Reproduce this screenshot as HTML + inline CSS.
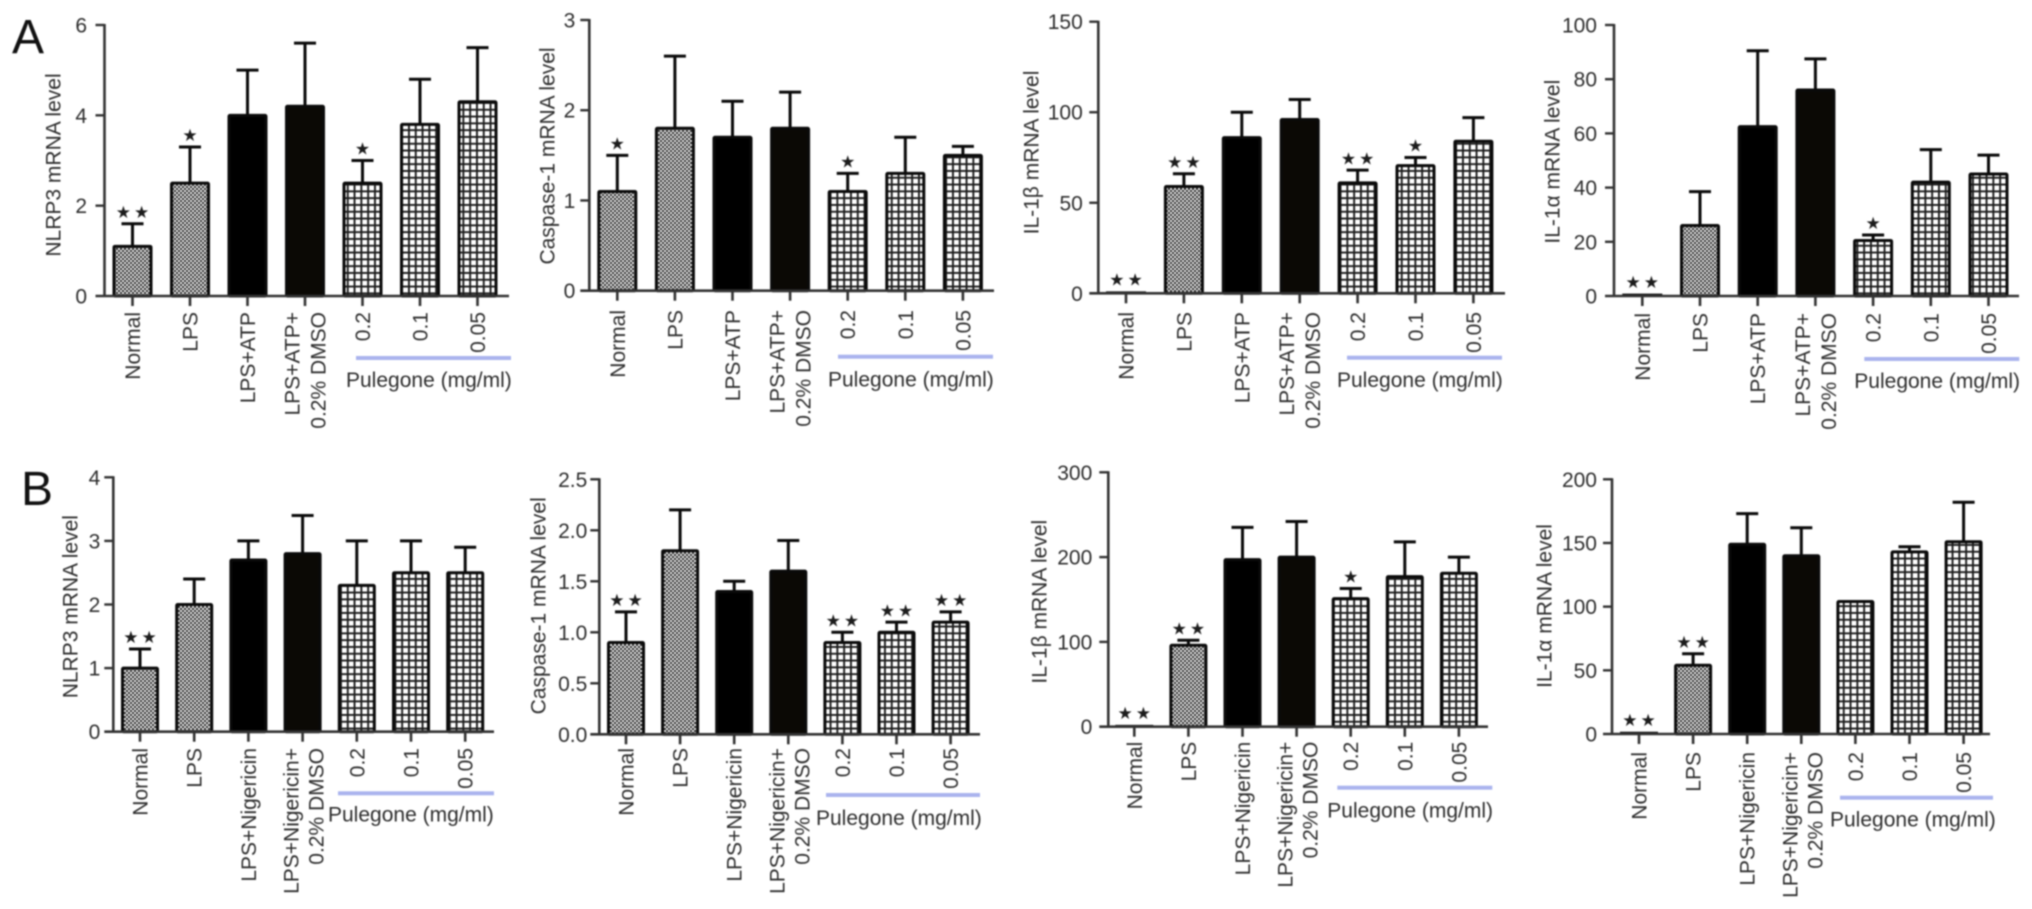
<!DOCTYPE html>
<html lang="en">
<head>
<meta charset="utf-8">
<title>Pulegone mRNA level bar charts</title>
<style>
  html, body { margin: 0; padding: 0; background: #fff; width: 2032px; height: 909px; overflow: hidden; }
  svg { display: block; filter: blur(0.75px); }
  text { font-family: "Liberation Sans", sans-serif; font-size: 21px; fill: #2e2e2e; }
  .star { font-family: "DejaVu Sans", sans-serif; font-size: 17px; fill: #1c1c1c; }
  .letter { font-size: 48px; fill: #111; }
</style>
</head>
<body>
<svg id="figure" xmlns="http://www.w3.org/2000/svg" width="2032" height="909" viewBox="0 0 2032 909">
  <defs>
    <pattern id="checker" width="4" height="4" patternUnits="userSpaceOnUse">
      <rect width="4" height="4" fill="#f2f2f2"></rect>
      <rect width="2" height="2" fill="#2a2a2a"></rect>
      <rect x="2" y="2" width="2" height="2" fill="#2a2a2a"></rect>
    </pattern>
    <pattern id="gridfill" width="6.8" height="6.8" patternUnits="userSpaceOnUse">
      <rect width="6.8" height="6.8" fill="#fff"></rect>
      <rect width="1.9" height="6.8" fill="#1c1c1c"></rect>
      <rect width="6.8" height="1.9" fill="#1c1c1c"></rect>
    </pattern>
  </defs>
  <text class="letter" x="12" y="53">A</text>
  <text class="letter" x="21" y="505">B</text>
</svg>
<script>
// Categories
const categoriesA = ["Normal", "LPS", "LPS+ATP", "LPS+ATP+|0.2% DMSO", "0.2", "0.1", "0.05"];
const categoriesB = ["Normal", "LPS", "LPS+Nigericin", "LPS+Nigericin+|0.2% DMSO", "0.2", "0.1", "0.05"];
const barFills = ["url(#checker)", "url(#checker)", "#000", "#0b0905", "url(#gridfill)", "url(#gridfill)", "url(#gridfill)"];

// Panel A: NLRP3
const a1Ticks = ["0", "2", "4", "6"];
const a1Means = [1.1, 2.5, 4.0, 4.2, 2.5, 3.8, 4.3];
const a1Tops = [1.6, 3.3, 5.0, 5.6, 3.0, 4.8, 5.5];
const a1Stars = [2, 1, 0, 0, 1, 0, 0];
// Panel A: Caspase-1
const a2Ticks = ["0", "1", "2", "3"];
const a2Means = [1.1, 1.8, 1.7, 1.8, 1.1, 1.3, 1.5];
const a2Tops = [1.5, 2.6, 2.1, 2.2, 1.3, 1.7, 1.6];
const a2Stars = [1, 0, 0, 0, 1, 0, 0];
// Panel A: IL-1 beta
const a3Ticks = ["0", "50", "100", "150"];
const a3Means = [0.5, 59, 86, 96, 61, 70.5, 84];
const a3Tops = [0.5, 66, 100, 107, 68, 75, 97];
const a3Stars = [2, 2, 0, 0, 2, 1, 0];
// Panel A: IL-1 alpha
const a4Ticks = ["0", "20", "40", "60", "80", "100"];
const a4Means = [0.5, 26, 62.5, 76, 20.5, 42, 45];
const a4Tops = [0.5, 38.5, 90.5, 87.5, 22.5, 54, 52];
const a4Stars = [2, 0, 0, 0, 1, 0, 0];
// Panel B: NLRP3
const b1Ticks = ["0", "1", "2", "3", "4"];
const b1Means = [1.0, 2.0, 2.7, 2.8, 2.3, 2.5, 2.5];
const b1Tops = [1.3, 2.4, 3.0, 3.4, 3.0, 3.0, 2.9];
const b1Stars = [2, 0, 0, 0, 0, 0, 0];
// Panel B: Caspase-1
const b2Ticks = ["0.0", "0.5", "1.0", "1.5", "2.0", "2.5"];
const b2Means = [0.9, 1.8, 1.4, 1.6, 0.9, 1.0, 1.1];
const b2Tops = [1.2, 2.2, 1.5, 1.9, 1.0, 1.1, 1.2];
const b2Stars = [2, 0, 0, 0, 2, 2, 2];
// Panel B: IL-1 beta
const b3Ticks = ["0", "100", "200", "300"];
const b3Means = [1, 96, 197, 200, 151, 177, 181];
const b3Tops = [1, 102, 235, 242, 163, 218, 200];
const b3Stars = [2, 2, 0, 0, 1, 0, 0];
// Panel B: IL-1 alpha
const b4Ticks = ["0", "50", "100", "150", "200"];
const b4Means = [1, 54, 149, 140, 104, 143, 151];
const b4Tops = [1, 63, 173, 162, 104, 147, 182];
const b4Stars = [2, 2, 0, 0, 0, 0, 0];

const svgNS = "http://www.w3.org/2000/svg";
const root = document.getElementById("figure");

function make(tag, parent, attrs) {
  const node = document.createElementNS(svgNS, tag);
  for (const k in attrs) node.setAttribute(k, attrs[k]);
  parent.appendChild(node);
  return node;
}

function drawPanel(p) {
  const maxValue = parseFloat(p.ticks[p.ticks.length - 1]);
  const yScale = v => p.y0 - (v / maxValue) * (p.y0 - p.yTop);
  const xScale = i => p.x0 + i * p.step;
  const ink = "#333";

  const g = make("g", root, {});
  
  

  // Bars and error bars
  p.means.forEach((m, i) => {
    const cx = xScale(i);
    const yv = yScale(m);
    const yt = yScale(p.tops[i]);
    if (p.tops[i] > m) {
      const stem = make("line", g, { x1: cx, x2: cx, y1: yv, y2: yt, stroke: "#0a0a0a", "stroke-width": 3 });
      
      
      const cap = make("line", g, { x1: cx - 11, x2: cx + 11, y1: yt, y2: yt, stroke: "#0a0a0a", "stroke-width": 3 });
      
      
    }
    const h = p.y0 - yv;
    let bar;
    if (h > 3) {
      bar = make("rect", g, { x: cx - p.barW / 2 + 1.5, y: yv, width: p.barW - 3, height: h, rx: 1, fill: barFills[i], stroke: "#0a0a0a", "stroke-width": 3 });
    } else {
      bar = make("line", g, { x1: cx - p.barW / 2, x2: cx + p.barW / 2, y1: yv, y2: yv, stroke: "#0a0a0a", "stroke-width": 2 });
    }
    
    

    if (p.stars[i] > 0) {
      const anchorY = p.tops[i] > m ? yt - 12 : yv - 13;
      const star = make("text", g, { x: cx + (p.stars[i] > 1 ? 1.5 : 0), y: anchorY + 6.2, "text-anchor": "middle", class: "star", "letter-spacing": p.stars[i] > 1 ? 3 : 0 });
      star.textContent = "\u2605".repeat(p.stars[i]);
      
      
    }
  });

  // Axes
  const yAxis = make("line", g, { x1: p.axisX, x2: p.axisX, y1: p.yTop - 1, y2: p.y0 + 1, stroke: ink, "stroke-width": 2.6 });
  
  
  const xAxis = make("line", g, { x1: p.axisX - 9, x2: p.xEnd, y1: p.y0, y2: p.y0, stroke: ink, "stroke-width": 2.6 });
  
  

  // Y ticks
  p.ticks.forEach(t => {
    const v = parseFloat(t);
    const y = yScale(v);
    if (v > 0) {
      const tick = make("line", g, { x1: p.axisX - 9, x2: p.axisX, y1: y, y2: y, stroke: ink, "stroke-width": 2.4 });
      
      
    }
    const label = make("text", g, { x: p.axisX - p.tickGap, y: y + 7.5, "text-anchor": "end" });
    label.textContent = t;
    
    
  });

  // X ticks and labels
  p.categories.forEach((c, i) => {
    const cx = xScale(i);
    const tick = make("line", g, { x1: cx, x2: cx, y1: p.y0, y2: p.y0 + 10, stroke: ink, "stroke-width": 2.6 });
    
    
    const lines = c.split("|");
    lines.forEach((line, j) => {
      let off = 0;
      if (lines.length > 1) off = j === 0 ? p.twoLine[0] : p.twoLine[1];
      const label = make("text", g, { transform: "translate(" + (cx + off + 7.5) + "," + p.labelTop + ") rotate(-90)", "text-anchor": "end" });
      label.textContent = line;
      
      
    });
  });

  // Y title
  const title = make("text", g, { transform: "translate(" + (p.titleX + 7.5) + "," + p.titleY + ") rotate(-90)", "text-anchor": "middle" });
  title.textContent = p.title;
  
  

  // Pulegone bracket and caption
  const bracket = make("rect", g, { x: p.blueX, y: p.blueY - 2, width: p.blueW, height: 4, fill: "#aab4ee" });
  
  
  const caption = make("text", g, { x: p.blueX - 10, y: p.captionY });
  caption.textContent = "Pulegone (mg/ml)";
  
  
}

const lineA = [-13, 13];
const lineB = [-11.5, 13.5];

drawPanel({ title: "NLRP3 mRNA level", ticks: a1Ticks, means: a1Means, tops: a1Tops, stars: a1Stars, categories: categoriesA, axisX: 104.5, yTop: 25, y0: 296, x0: 132.5, step: 57.5, barW: 40, xEnd: 509, labelTop: 312, titleX: 53, titleY: 165, blueX: 356, blueW: 155, blueY: 358, captionY: 387, twoLine: lineA, tickGap: 17.5 });
drawPanel({ title: "Caspase-1 mRNA level", ticks: a2Ticks, means: a2Means, tops: a2Tops, stars: a2Stars, categories: categoriesA, axisX: 589.3, yTop: 20, y0: 290.7, x0: 617.3, step: 57.6, barW: 40, xEnd: 994, labelTop: 310, titleX: 547, titleY: 156, blueX: 838, blueW: 155, blueY: 356.7, captionY: 386.5, twoLine: lineA, tickGap: 14 });
drawPanel({ title: "IL-1\u03b2 mRNA level", ticks: a3Ticks, means: a3Means, tops: a3Tops, stars: a3Stars, categories: categoriesA, axisX: 1098.3, yTop: 21.7, y0: 293.3, x0: 1126, step: 57.9, barW: 40, xEnd: 1505, labelTop: 312, titleX: 1031, titleY: 152.5, blueX: 1347, blueW: 155, blueY: 357.7, captionY: 387, twoLine: lineA, tickGap: 15.5 });
drawPanel({ title: "IL-1\u03b1 mRNA level", ticks: a4Ticks, means: a4Means, tops: a4Tops, stars: a4Stars, categories: categoriesA, axisX: 1614, yTop: 25, y0: 296, x0: 1642.3, step: 57.7, barW: 40, xEnd: 2019, labelTop: 313, titleX: 1552, titleY: 161.7, blueX: 1864.3, blueW: 155, blueY: 359, captionY: 388, twoLine: lineA, tickGap: 17 });

drawPanel({ title: "NLRP3 mRNA level", ticks: b1Ticks, means: b1Means, tops: b1Tops, stars: b1Stars, categories: categoriesB, axisX: 113.3, yTop: 477.3, y0: 731.7, x0: 140, step: 54.2, barW: 38, xEnd: 494, labelTop: 748, titleX: 70, titleY: 606.7, blueX: 338, blueW: 156, blueY: 793.3, captionY: 821.7, twoLine: lineB, tickGap: 13 });
drawPanel({ title: "Caspase-1 mRNA level", ticks: b2Ticks, means: b2Means, tops: b2Tops, stars: b2Stars, categories: categoriesB, axisX: 599.3, yTop: 479.3, y0: 734.3, x0: 626, step: 54.1, barW: 38, xEnd: 980, labelTop: 748, titleX: 538, titleY: 605.8, blueX: 826, blueW: 154, blueY: 795, captionY: 825, twoLine: lineB, tickGap: 12 });
drawPanel({ title: "IL-1\u03b2 mRNA level", ticks: b3Ticks, means: b3Means, tops: b3Tops, stars: b3Stars, categories: categoriesB, axisX: 1108.3, yTop: 472.3, y0: 726.7, x0: 1134.3, step: 54.1, barW: 38, xEnd: 1488, labelTop: 741.7, titleX: 1039, titleY: 601.7, blueX: 1337.3, blueW: 155, blueY: 787.7, captionY: 817.3, twoLine: lineB, tickGap: 16 });
drawPanel({ title: "IL-1\u03b1 mRNA level", ticks: b4Ticks, means: b4Means, tops: b4Tops, stars: b4Stars, categories: categoriesB, axisX: 1612, yTop: 479.3, y0: 734, x0: 1639, step: 54.1, barW: 38, xEnd: 1990, labelTop: 752, titleX: 1544, titleY: 606, blueX: 1840, blueW: 153, blueY: 797.7, captionY: 826.7, twoLine: lineB, tickGap: 15 });
</script>
</body>
</html>
